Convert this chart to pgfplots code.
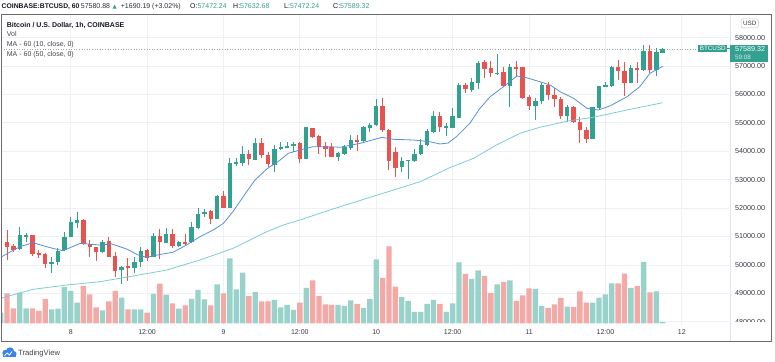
\documentclass[border=0pt]{standalone}
\usepackage{pgfplots}
\pgfplotsset{compat=1.18}
\usepackage{pgfplotstable}
\usepackage{fontspec}
\setmainfont{Liberation Sans}
\newfontfamily\dejavu{DejaVu Sans}
\definecolor{up}{HTML}{33A190}
\definecolor{dn}{HTML}{E8524F}
\definecolor{upv}{HTML}{98D2CB}
\definecolor{dnv}{HTML}{F3A9A6}
\definecolor{maten}{HTML}{5590D8}
\definecolor{mafifty}{HTML}{7CCBD6}
\definecolor{txt}{HTML}{131722}
\definecolor{gridc}{HTML}{EEF0F4}
\definecolor{framec}{HTML}{6B6B6B}
\definecolor{sepc}{HTML}{E0E3EB}
\definecolor{tvblue}{HTML}{3A86E8}

\pgfplotstableread{
t o h l c
-10 50796 51229 50172 50641
-9 50655 50726 50464 50550
-8 50559 51335 50524 51028
-7 51018 51113 50817 51042
-6 51042 51045 50313 50383
-5 50408 50524 50232 50359
-4 50359 50408 49880 50056
-3 50042 50288 49725 50091
-2 50112 50584 49996 50489
-1 50524 51169 50500 50972
0 50983 51697 50972 51486
1 51500 51852 51289 51581
2 51581 51616 50701 50736
3 50736 50877 50288 50641
4 50623 50641 50137 50464
5 50464 50877 50429 50807
6 50817 50972 50267 50288
7 50313 50464 49584 49795
8 49820 49961 49327 49915
9 49961 50242 49443 49915
10 49915 50288 49704 50102
11 50102 50619 49937 50500
12 50500 50559 50148 50267
13 50288 51113 50267 50993
14 51018 51253 50197 50807
15 50782 51289 50761 51088
16 51088 51253 50584 50666
17 50666 50831 50641 50807
18 50807 51088 50701 50761
19 50807 51521 50782 51324
20 51324 51993 51264 51792
21 51792 51957 51686 51873
22 51898 51933 51430 51641
23 51641 52461 51616 52426
24 52426 52602 51993 52014
25 52028 53753 52010 53577
26 53577 53774 53492 53598
27 53587 54186 53492 53904
28 53904 54045 53506 53739
29 53718 54479 53693 54292
30 54292 54479 53774 53869
31 53869 53964 53457 53552
32 53541 54222 53281 54070
33 54080 54317 54045 54151
34 54151 54338 54105 54186
35 54186 54338 53985 54267
36 54267 54317 53577 53753
37 53753 54845 53728 54831
38 54810 54831 54458 54514
39 54521 54574 53894 54151
40 54176 54338 53788 54098
41 54126 54303 53788 53809
42 53809 53985 53668 53929
43 53929 54222 53869 54140
44 54140 54574 54045 54398
45 54398 54574 54020 54338
46 54373 54891 54282 54845
47 54845 54986 54690 54926
48 54926 55831 54891 55595
49 55595 55866 54690 54774
50 54750 54774 53341 53668
51 53950 54140 53105 53436
52 53457 53809 53281 53668
53 53668 53700 53014 53693
54 53668 54070 53633 53904
55 53904 54423 53869 54222
56 54222 54774 54186 54690
57 54690 55430 54655 55243
58 55243 55394 54690 54855
59 54845 54986 54538 54891
60 54845 55514 54810 55218
61 55197 56394 55162 56334
62 56310 56415 56042 56193
63 56183 56570 56098 56415
64 56415 57190 56183 57119
65 57119 57214 56570 56908
66 56908 57190 56626 56767
67 56721 57426 56686 56767
68 56767 56979 56275 56310
69 56310 57073 55549 56957
70 56957 57190 56626 56922
71 56957 56979 55831 55901
72 55901 55982 55454 55619
73 55619 55866 55102 55781
74 55781 56394 55665 56324
75 56324 56450 55806 55982
76 55982 56218 55570 55852
77 55831 55922 55127 55243
78 55243 55630 55043 55549
79 55549 55595 55007 55032
80 55032 55197 54282 54750
81 54750 54866 54282 54458
82 54458 55570 54423 55549
83 55549 56299 55454 56275
84 56275 56450 56254 56324
85 56299 57003 56275 56943
86 56943 57214 56510 56838
87 56838 57134 55947 56415
88 56415 57038 56394 56922
89 56922 57134 56394 56862
90 56862 57743 56838 57541
91 57541 57743 56746 56887
92 56887 57627 56651 57496
93 57472.24 57632.68 57472.24 57589.32
}\candles

\pgfplotstableread{
t v d
-11 10.7 1
-10 30 0
-9 15 0
-8 30.7 1
-7 15 1
-6 15 0
-5 12.3 0
-4 24.5 0
-3 14 1
-2 14.7 1
-1 36.5 1
0 32.5 1
1 20.7 1
2 37.3 0
3 29 0
4 16 0
5 13 1
6 22 0
7 32.5 0
8 25.7 1
9 14 0
10 14 1
11 14 1
12 10.7 0
13 29.3 1
14 39.7 0
15 28.7 1
16 20 0
17 14.7 1
18 18 0
19 24.3 1
20 33.3 1
21 24 1
22 18 0
23 39 1
24 30 0
25 65 1
26 34 1
27 50.7 1
28 27.3 0
29 31.3 1
30 22 0
31 22 0
32 23.3 1
33 16 1
34 18.3 1
35 13.3 1
36 20.7 0
37 35.3 1
38 43 0
39 27.3 0
40 19 0
41 18.3 0
42 18.3 1
43 17.3 1
44 23 1
45 19.3 0
46 15.3 1
47 24.3 1
48 64 1
49 45.3 0
50 77 0
51 36.7 0
52 26.3 1
53 22.3 1
54 11.3 1
55 11.3 1
56 19.3 1
57 23.3 1
58 19.3 0
59 11.3 1
60 20 1
61 61 1
62 49.3 0
63 44.3 1
64 53 1
65 47.3 0
66 30.3 0
67 39 1
68 41.3 0
69 43 1
70 22.3 0
71 28 0
72 35 0
73 34.3 1
74 17.3 1
75 15.3 0
76 19 0
77 25.3 0
78 16.7 1
79 16.3 0
80 32 0
81 20.7 0
82 20.7 1
83 25.7 1
84 29 1
85 40 1
86 40 0
87 49.7 0
88 35.3 1
89 37.3 0
90 61.3 1
91 31 0
92 32 1
93 1.3 1
}\vol

\pgfplotsset{
  chartbase/.style={at={(1pt,36pt)}, anchor=south west, scale only axis,
    width=728pt, height=311pt, xmin=-10.95, xmax=103.42},
  pricerange/.style={ymin=47884, ymax=58834},
  candlebar/.style={draw=none, mark=none, error bars/.cd, y dir=both, y explicit,
    error mark=none, error bar style={line width=#1}},
}

\begin{document}
\begin{tikzpicture}[x=1pt,y=1pt]
\path[use as bounding box] (0,0) rectangle (775,361);

% grid and tick labels
\begin{axis}[chartbase, pricerange,
  axis line style={draw=none}, major tick length=0pt,
  grid=major, major grid style={gridc, line width=0.8pt},
  xtick={0,12,...,96},
  xticklabels={8,12:00,9,12:00,10,12:00,11,12:00,12},
  ytick={48000,49000,50000,51000,52000,53000,54000,55000,56000,57000,58000},
  yticklabels={48000.00,49000.00,50000.00,51000.00,52000.00,53000.00,54000.00,55000.00,56000.00,57000.00,58000.00},
  scaled y ticks=false,
  yticklabel pos=right,
  xticklabel style={font=\fontsize{7}{8}\selectfont, text=txt!85, anchor=center, yshift=-7pt},
  yticklabel style={font=\fontsize{7.2}{8}\selectfont, text=txt!85, anchor=west, inner sep=0pt, xshift=6pt},
]
\end{axis}

% volume
\begin{axis}[chartbase, hide axis, ymin=-1.7, ymax=309.3]
\addplot[ybar, bar width=5.4pt, bar shift=0pt, fill=upv, draw=none]
  table[x=t, y=v, restrict expr to domain={\thisrow{d}}{0.5:1.5}] {\vol};
\addplot[ybar, bar width=5.4pt, bar shift=0pt, fill=dnv, draw=none]
  table[x=t, y=v, restrict expr to domain={\thisrow{d}}{-0.5:0.5}] {\vol};
\end{axis}

% candles and moving averages
\begin{axis}[chartbase, pricerange, hide axis]
\addplot[gray!70, dotted, line width=0.6pt] coordinates {(-10.95,57589.32) (98.4,57589.32)};
% wicks
\addplot[candlebar=1pt, error bar style={draw=up}]
  table[x=t, y expr={(\thisrow{h}+\thisrow{l})/2}, y error expr={(\thisrow{h}-\thisrow{l})/2},
  restrict expr to domain={\thisrow{c}-\thisrow{o}}{0:100000}] {\candles};
\addplot[candlebar=1pt, error bar style={draw=dn}]
  table[x=t, y expr={(\thisrow{h}+\thisrow{l})/2}, y error expr={(\thisrow{h}-\thisrow{l})/2},
  restrict expr to domain={\thisrow{c}-\thisrow{o}}{-100000:-0.001}] {\candles};
% bodies
\addplot[candlebar=4.4pt, error bar style={draw=up}]
  table[x=t, y expr={(\thisrow{o}+\thisrow{c})/2}, y error expr={abs(\thisrow{c}-\thisrow{o})/2+8},
  restrict expr to domain={\thisrow{c}-\thisrow{o}}{0:100000}] {\candles};
\addplot[candlebar=4.4pt, error bar style={draw=dn}]
  table[x=t, y expr={(\thisrow{o}+\thisrow{c})/2}, y error expr={abs(\thisrow{c}-\thisrow{o})/2+8},
  restrict expr to domain={\thisrow{c}-\thisrow{o}}{-100000:-0.001}] {\candles};
% MA 10
\addplot[maten, line width=0.8pt] coordinates {
(-11,50268) (-8,50641) (-5.9,50781) (-3.8,50641) (-2.2,50549) (-1.2,50500) (1.5,50760)
(4.6,50700) (6.4,50740) (8.8,50560) (10.6,50348) (11.9,50267) (14,50366) (16.1,50447)
(18.2,50700) (20.3,50993) (22.4,51229) (24,51465) (25.5,51880) (27.65,52577) (28.96,52989)
(30.8,53377) (32.9,53693) (34.2,53929) (36,54045) (38.1,54162) (40.7,54162) (42.3,54141)
(45.5,54281) (48.9,54493) (50.7,54422) (53.8,54398) (56.4,54338) (58,54257) (59.3,54292)
(60.6,54514) (62.7,54985) (64.3,55514) (65.9,55922) (68,56274) (70.1,56651) (71.6,56591)
(73.7,56450) (75.3,56334) (76.9,56098) (79,55866) (81.1,55514) (82.9,55454) (84.7,55595)
(87.4,55922) (89.4,56274) (91,56746) (93,56990)};
% MA 50
\addplot[mafifty, line width=0.8pt] coordinates {
(-11,48824) (-5.9,49141) (-0.6,49292) (4.6,49408) (9.8,49609) (15.1,49820) (20.3,50172)
(25.5,50584) (30.8,51169) (33.4,51405) (36,51581) (40.7,51933) (50.7,52637) (54.9,52929)
(59.6,53429) (63.3,53753) (66.9,54222) (70.6,54634) (73.7,54845) (78.4,55077) (82.1,55197)
(87.4,55454) (93,55711)};
\end{axis}

% frame, separator, price scale cover
\fill[white] (730.5,20.5) rectangle (771.5,38.6);
\draw[sepc, line width=0.8pt] (730,20) -- (730,347);
\draw[framec, line width=0.9pt] (1,20) rectangle (771.7,347);

% last price tags
\fill[up] (698.3,309.3) rectangle (727.3,316.3);
\node[text=white, font=\fontsize{6.3}{7}\selectfont, inner sep=0pt] at (712.8,312.8) {BTCUSD};
\draw[up, line width=0.8pt] (727.3,313) -- (730,313);
\fill[up] (730,299.3) rectangle (768.3,316.3);
\node[text=white, font=\fontsize{7.2}{8}\selectfont, inner sep=0pt, anchor=west] at (735,312.3) {57589.32};
\node[text=white!80!up, font=\fontsize{6.3}{7}\selectfont, inner sep=0pt, anchor=west] at (735,303.6) {59:08};

% USD box
\draw[gray!45, rounded corners=1.5pt, fill=white, line width=0.5pt] (741,333) rectangle (758.3,342);
\node[text=txt!85, font=\fontsize{6.3}{7}\selectfont, inner sep=0pt] at (749.7,337.5) {USD};

% header
\node[anchor=base west, inner sep=0pt, text=txt, font=\fontsize{6.8}{8}\bfseries] at (1.5,352.5) {COINBASE:BTCUSD, 60};
\node[anchor=base west, inner sep=0pt, text=txt!90, font=\fontsize{7}{8}\selectfont] at (80.7,352.5) {57580.88};
\node[anchor=base west, inner sep=0pt, text=up, font=\fontsize{5.5}{7}\dejavu] at (112.5,352.8) {▲};
\node[anchor=base west, inner sep=0pt, text=txt!90, font=\fontsize{7}{8}\selectfont] at (120.7,352.5) {+1690.19 (+3.02\%)};
\node[anchor=base west, inner sep=0pt, font=\fontsize{7}{8}\selectfont] at (190,352.5) {\textcolor{txt}{O:}\textcolor{up}{57472.24}};
\node[anchor=base west, inner sep=0pt, font=\fontsize{7}{8}\selectfont] at (233,352.5) {\textcolor{txt}{H:}\textcolor{up}{57632.68}};
\node[anchor=base west, inner sep=0pt, font=\fontsize{7}{8}\selectfont] at (284,352.5) {\textcolor{txt}{L:}\textcolor{up}{57472.24}};
\node[anchor=base west, inner sep=0pt, font=\fontsize{7}{8}\selectfont] at (333,352.5) {\textcolor{txt}{C:}\textcolor{up}{57589.32}};

% legend
\node[anchor=base west, inner sep=0pt, text=txt, font=\fontsize{7}{8}\bfseries] at (6.7,333.6) {Bitcoin / U.S. Dollar, 1h, COINBASE};
\node[anchor=base west, inner sep=0pt, text=txt!80, font=\fontsize{7}{8}\selectfont] at (6.7,324.4) {Vol};
\node[anchor=base west, inner sep=0pt, text=txt!80, font=\fontsize{7}{8}\selectfont] at (6.7,314.2) {MA - 60 (10, close, 0)};
\node[anchor=base west, inner sep=0pt, text=txt!80, font=\fontsize{7}{8}\selectfont] at (6.7,304.2) {MA - 60 (50, close, 0)};

% TradingView logo
\fill[tvblue] (2.5,4) rectangle (15.5,7.5);
\fill[tvblue] (5.5,8) circle (3.2);
\fill[tvblue] (10,9.5) circle (4.2);
\fill[tvblue] (14,7.2) circle (2.6);
\draw[white, line width=0.8pt] (4.5,5) -- (7,8) -- (9.5,6) -- (12,9.5);
\node[anchor=base west, inner sep=0pt, text=txt!80, font=\fontsize{7.6}{9}\selectfont] at (18,6) {TradingView};
\end{tikzpicture}
\end{document}
